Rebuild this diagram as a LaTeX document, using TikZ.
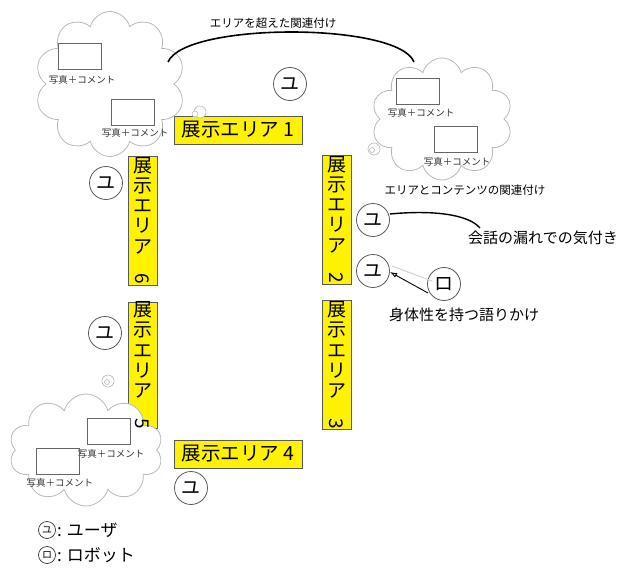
\documentclass[tikz,border=0pt]{standalone}
\usepackage{fontspec}
\setmainfont{Noto Sans CJK JP}
\usetikzlibrary{shapes.symbols,arrows.meta}
\tikzset{
  cloudbox/.style={cloud, cloud puffs=10, draw=gray!55, line width=0.8pt, fill=white, aspect=1},
  photo/.style={draw=gray!80!black, line width=0.8pt, minimum width=43, minimum height=26, inner sep=0},
  small/.style={font=\fontsize{9.5}{10}\selectfont, inner sep=1pt, text=black!80},
  ybox/.style={draw=gray!70!black, fill=yellow, line width=0.6pt, inner sep=1pt, font=\fontsize{19}{20.3}\selectfont},
  hbox/.style={ybox, font=\fontsize{19.5}{20}\selectfont, minimum width=128, minimum height=28},
  vbox/.style={ybox, minimum width=29, minimum height=128, align=center},
  usr/.style={circle, draw=gray!70!black, line width=0.8pt, minimum size=33, inner sep=0, font=\fontsize{19}{19}\selectfont},
  legc/.style={circle, draw=black!80, line width=0.7pt, minimum size=17, inner sep=0, font=\fontsize{10}{10}\selectfont},
  bub/.style={circle, draw=gray!55, line width=0.6pt, fill=white, inner sep=0},
  lbl/.style={inner sep=1pt}
}
\begin{document}
\begin{tikzpicture}[x=1pt,y=-1pt]
\useasboundingbox (0,0) rectangle (632,570);
% exhibit areas
\node[hbox] (a1) at (238,130) {展示エリア 1};
\node[vbox] (a6) at (142.5,220.5) {展\\示\\エ\\リ\\ア\\\rotatebox{-90}{6}};
\node[vbox] (a2) at (336.5,219.5) {展\\示\\エ\\リ\\ア\\\rotatebox{-90}{2}};
\node[vbox, minimum height=126] (a5) at (142.5,365) {};
\node[vbox, minimum height=126] (a3) at (336.5,365) {展\\示\\エ\\リ\\ア\\\rotatebox{-90}{3}};
\node[hbox] (a4) at (238,454) {展示エリア 4};
% clouds
\node[cloudbox, minimum width=150, minimum height=145] (c1) at (110,84) {};
\node[cloudbox, minimum width=141, minimum height=122] (c2) at (442,119) {};
\node[cloudbox, minimum width=154, minimum height=112] (c3) at (86,450) {};
\node[ybox, draw=none, fill=none, align=center] (a5t) at (142.5,365) {展\\示\\エ\\リ\\ア\\\rotatebox{-90}{5}};
% bubbles
\node[bub, minimum size=12] (b1) at (200,112) {};
\node[bub, minimum size=6] (b1s) at (195,114) {};
\node[bub, minimum size=12] (b2) at (374,149) {};
\node[bub, minimum size=5] (b2s) at (372,150) {};
\node[bub, minimum size=12] (b3) at (108,381) {};
\node[bub, minimum size=5] (b3s) at (107,382) {};
% photos
\node[photo] (p1) at (80,56) {};
\node[small] (p1l) at (82,80) {写真＋コメント};
\node[photo] (p2) at (133,112) {};
\node[small] (p2l) at (135,133) {写真＋コメント};
\node[photo] (p3) at (418,91) {};
\node[small] (p3l) at (421,113) {写真＋コメント};
\node[photo] (p4) at (456,139) {};
\node[small] (p4l) at (457,162) {写真＋コメント};
\node[photo] (p5) at (109,431) {};
\node[small] (p5l) at (111,454) {写真＋コメント};
\node[photo] (p6) at (58,461) {};
\node[small] (p6l) at (60,483) {写真＋コメント};
% cross-area link
\coordinate (l1) at (168,62);
\coordinate (l2) at (414,62);
\draw[line width=1.6pt] (l1) .. controls (185,22) and (398,22) .. (l2);
\node[lbl, font=\fontsize{11.5}{12}\selectfont] (t1) at (273,23) {エリアを超えた関連付け};
\node[lbl, font=\fontsize{11.5}{12}\selectfont] (t2) at (465,190) {エリアとコンテンツの関連付け};
% users and robot
\node[usr] (u1) at (290,84) {ユ};
\node[usr] (u2) at (106,183) {ユ};
\node[usr] (u3) at (373,220) {ユ};
\node[usr] (u4) at (373,271) {ユ};
\node[usr] (u5) at (105,333) {ユ};
\node[usr] (u6) at (191,488) {ユ};
\node[usr] (r1) at (444,284) {ロ};
% conversation
\node[lbl, font=\fontsize{15}{16}\selectfont] (t3) at (543,238) {会話の漏れでの気付き};
\coordinate (k1) at (480,228);
\draw[line width=1.4pt] (u3.east) ++(0,-6) .. controls (432,210) and (468,214) .. (k1);
\coordinate (s1) at (428,293);
\coordinate (s2) at (390,272);
\draw[gray!35, line width=1pt] (432,281) -- (392,266);
\draw[line width=0.9pt, -{Latex[open,length=7pt,width=5pt]}] (s1) -- (s2);
\node[lbl, font=\fontsize{15}{16}\selectfont] (t4) at (464,315) {身体性を持つ語りかけ};
% legend
\node[legc] (lc1) at (47,530) {ユ};
\node[lbl, font=\fontsize{17}{18}\selectfont, anchor=west] (lg1) at (lc1.east) {: ユーザ};
\node[legc] (lc2) at (47,555) {ロ};
\node[lbl, font=\fontsize{17}{18}\selectfont, anchor=west] (lg2) at (lc2.east) {: ロボット};
\end{tikzpicture}
\end{document}
